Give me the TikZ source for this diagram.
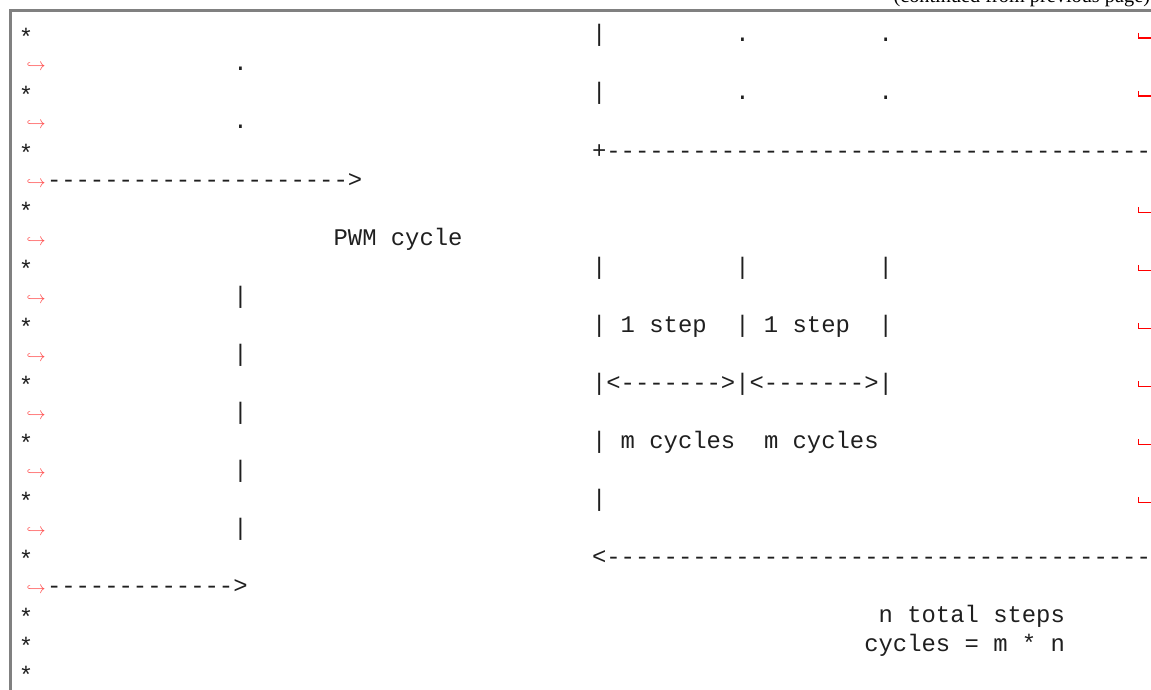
\documentclass[tikz,border=0pt]{standalone}
\usepackage{fontspec}
\setmainfont{Liberation Serif}
\setmonofont{Liberation Mono}
\definecolor{framegray}{RGB}{128,128,128}
\definecolor{contred}{RGB}{255,70,70}
\newcommand\cd[4]{\node[code] (#1) at ({18.83+14.33*#2},{42+29*(#3-1)}) {#4};}
\newcommand\st[2]{\node[code,yshift=-3.5pt] (#1) at (18.83,{42+29*(#2-1)}) {*};}
\newcommand\kd[4]{\node[code] (#1) at ({47+14.33*#2},{42+29*(#3-1)}) {#4};}
\newcommand\hk[2]{\node[hook] (#1) at (26.5,{42+29*(#2-1)}) {$\hookrightarrow$};}
\newcommand\vsp[1]{\draw[vspace] (1138.5,{42+29*(#1-1)-9}) -- (1138.5,{42+29*(#1-1)-3.9}) -- (1153,{42+29*(#1-1)-3.9}) -- (1153,{42+29*(#1-1)-9});}
\begin{document}
\begin{tikzpicture}[x=1pt,y=-1pt,
  code/.style={font=\ttfamily\fontsize{23.88}{28}\selectfont, anchor=base west, inner sep=0pt, outer sep=0pt, text=black!88},
  hook/.style={font=\fontsize{18}{18}\selectfont, anchor=base west, inner sep=0pt, outer sep=0pt, text=contred},
  vspace/.style={draw=red, line width=1.2pt},
  frameline/.style={draw=framegray, line width=2.4pt},
  header/.style={font=\fontsize{20.3}{24}\selectfont, anchor=base east, inner sep=0pt, outer sep=0pt}]
\useasboundingbox (0,0) rectangle (1151,690);
% frame
\draw[frameline] (10.4,9.2) -- (10.4,692);
\draw[frameline] (9.2,10.4) -- (1153,10.4);
\node[header] (cont) at (1150,2.5) {(continued from previous page)};
% rows
\st{s1}{1}\cd{a1}{40}{1}{|}\cd{b1}{50}{1}{.}\cd{c1}{60}{1}{.}\vsp{1}
\hk{h2}{2}\kd{a2}{13}{2}{.}
\st{s3}{3}\cd{a3}{40}{3}{|}\cd{b3}{50}{3}{.}\cd{c3}{60}{3}{.}\vsp{3}
\hk{h4}{4}\kd{a4}{13}{4}{.}
\st{s5}{5}\cd{a5}{40}{5}{+----------------------------------------}
\hk{h6}{6}\kd{a6}{0}{6}{--------------------->}
\st{s7}{7}\vsp{7}
\hk{h8}{8}\kd{a8}{20}{8}{PWM cycle}
\st{s9}{9}\cd{a9}{40}{9}{|}\cd{b9}{50}{9}{|}\cd{c9}{60}{9}{|}\vsp{9}
\hk{h10}{10}\kd{a10}{13}{10}{|}
\st{s11}{11}\cd{a11}{40}{11}{| 1 step}\cd{b11}{50}{11}{| 1 step}\cd{c11}{60}{11}{|}\vsp{11}
\hk{h12}{12}\kd{a12}{13}{12}{|}
\st{s13}{13}\cd{a13}{40}{13}{|<------->|<------->|}\vsp{13}
\hk{h14}{14}\kd{a14}{13}{14}{|}
\st{s15}{15}\cd{a15}{40}{15}{| m cycles}\cd{b15}{52}{15}{m cycles}\vsp{15}
\hk{h16}{16}\kd{a16}{13}{16}{|}
\st{s17}{17}\cd{a17}{40}{17}{|}\vsp{17}
\hk{h18}{18}\kd{a18}{13}{18}{|}
\st{s19}{19}\cd{a19}{40}{19}{<----------------------------------------}
\hk{h20}{20}\kd{a20}{0}{20}{------------->}
\st{s21}{21}\cd{a21}{60}{21}{n total steps}
\st{s22}{22}\cd{a22}{59}{22}{cycles = m * n}
\st{s23}{23}
\end{tikzpicture}
\end{document}
